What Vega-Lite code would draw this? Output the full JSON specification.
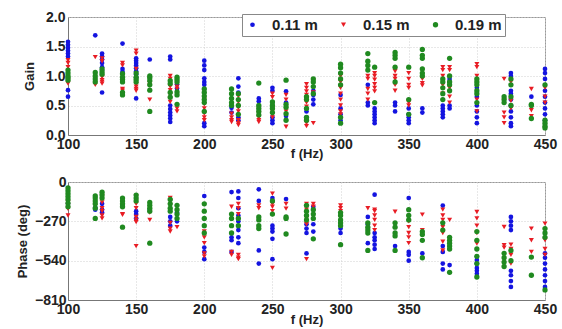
{
"$schema": "https://vega.github.io/schema/vega-lite/v6.json",
"padding": {"left": 15, "top": 9, "right": 3, "bottom": 0},
"background": "white",
"config": {
  "font": "Liberation Sans",
  "view": {"stroke": "#999", "strokeWidth": 1},
  "axis": {"labelFontSize": 14, "labelFontWeight": "bold", "labelColor": "#222", "titleFontSize": 13, "titleFontWeight": "bold", "titleColor": "#222", "grid": true, "gridColor": "#d0d0d0", "gridDash": [1, 2], "ticks": false, "domainColor": "#777"}
},
"spacing": 47,
"bounds": "flush",
"datasets": {
"gain": [
{"f":100,"s":"0.11 m","v":1.58},{"f":100,"s":"0.11 m","v":1.53},{"f":100,"s":"0.11 m","v":1.48},{"f":100,"s":"0.11 m","v":1.43},{"f":100,"s":"0.11 m","v":1.38},{"f":100,"s":"0.11 m","v":1.33},{"f":100,"s":"0.11 m","v":0.76},{"f":100,"s":"0.11 m","v":0.65},
{"f":120,"s":"0.11 m","v":1.69},
{"f":125,"s":"0.11 m","v":1.38},{"f":125,"s":"0.11 m","v":1.33},{"f":125,"s":"0.11 m","v":1.28},{"f":125,"s":"0.11 m","v":1.22},{"f":125,"s":"0.11 m","v":1.15},{"f":125,"s":"0.11 m","v":1.1},{"f":125,"s":"0.11 m","v":0.72},
{"f":140,"s":"0.11 m","v":1.55},{"f":140,"s":"0.11 m","v":1.12},{"f":140,"s":"0.11 m","v":1.07},
{"f":150,"s":"0.11 m","v":1.3},{"f":150,"s":"0.11 m","v":1.26},{"f":150,"s":"0.11 m","v":1.22},{"f":150,"s":"0.11 m","v":1.18},{"f":150,"s":"0.11 m","v":1.13},{"f":150,"s":"0.11 m","v":1.08},{"f":150,"s":"0.11 m","v":1.03},{"f":150,"s":"0.11 m","v":0.98},{"f":150,"s":"0.11 m","v":0.62},
{"f":160,"s":"0.11 m","v":1.28},
{"f":175,"s":"0.11 m","v":1.33},{"f":175,"s":"0.11 m","v":1.28},{"f":175,"s":"0.11 m","v":0.5},{"f":175,"s":"0.11 m","v":0.44},{"f":175,"s":"0.11 m","v":0.38},{"f":175,"s":"0.11 m","v":0.33},{"f":175,"s":"0.11 m","v":0.28},{"f":175,"s":"0.11 m","v":0.22},
{"f":180,"s":"0.11 m","v":0.86},{"f":180,"s":"0.11 m","v":0.79},
{"f":200,"s":"0.11 m","v":1.26},{"f":200,"s":"0.11 m","v":1.18},{"f":200,"s":"0.11 m","v":1.1},{"f":200,"s":"0.11 m","v":0.96},{"f":200,"s":"0.11 m","v":0.9},{"f":200,"s":"0.11 m","v":0.85},{"f":200,"s":"0.11 m","v":0.2},{"f":200,"s":"0.11 m","v":0.15},
{"f":220,"s":"0.11 m","v":0.46},{"f":220,"s":"0.11 m","v":0.38},
{"f":225,"s":"0.11 m","v":0.96},{"f":225,"s":"0.11 m","v":0.82},{"f":225,"s":"0.11 m","v":0.72},{"f":225,"s":"0.11 m","v":0.3},{"f":225,"s":"0.11 m","v":0.25},
{"f":240,"s":"0.11 m","v":0.62},{"f":240,"s":"0.11 m","v":0.57},
{"f":250,"s":"0.11 m","v":0.8},{"f":250,"s":"0.11 m","v":0.75},{"f":250,"s":"0.11 m","v":0.55},{"f":250,"s":"0.11 m","v":0.3},{"f":250,"s":"0.11 m","v":0.25},{"f":250,"s":"0.11 m","v":0.2},
{"f":260,"s":"0.11 m","v":0.74},{"f":260,"s":"0.11 m","v":0.55},{"f":260,"s":"0.11 m","v":0.32},
{"f":275,"s":"0.11 m","v":0.4},{"f":275,"s":"0.11 m","v":0.3},
{"f":280,"s":"0.11 m","v":0.75},{"f":280,"s":"0.11 m","v":0.68},{"f":280,"s":"0.11 m","v":0.6},{"f":280,"s":"0.11 m","v":0.52},
{"f":300,"s":"0.11 m","v":0.68},{"f":300,"s":"0.11 m","v":0.45},{"f":300,"s":"0.11 m","v":0.35},{"f":300,"s":"0.11 m","v":0.25},
{"f":320,"s":"0.11 m","v":0.85},{"f":320,"s":"0.11 m","v":0.55},{"f":320,"s":"0.11 m","v":0.5},
{"f":325,"s":"0.11 m","v":0.45},{"f":325,"s":"0.11 m","v":0.4},{"f":325,"s":"0.11 m","v":0.35},{"f":325,"s":"0.11 m","v":0.3},{"f":325,"s":"0.11 m","v":0.25},{"f":325,"s":"0.11 m","v":0.2},
{"f":340,"s":"0.11 m","v":0.55},{"f":340,"s":"0.11 m","v":0.5},{"f":340,"s":"0.11 m","v":0.4},
{"f":350,"s":"0.11 m","v":0.45},{"f":350,"s":"0.11 m","v":0.35},{"f":350,"s":"0.11 m","v":0.3},{"f":350,"s":"0.11 m","v":0.25},{"f":350,"s":"0.11 m","v":0.2},
{"f":360,"s":"0.11 m","v":0.45},{"f":360,"s":"0.11 m","v":0.38},
{"f":375,"s":"0.11 m","v":0.5},{"f":375,"s":"0.11 m","v":0.45},{"f":375,"s":"0.11 m","v":0.4},{"f":375,"s":"0.11 m","v":0.35},{"f":375,"s":"0.11 m","v":0.3},
{"f":380,"s":"0.11 m","v":0.95},{"f":380,"s":"0.11 m","v":0.9},{"f":380,"s":"0.11 m","v":0.5},{"f":380,"s":"0.11 m","v":0.45},
{"f":400,"s":"0.11 m","v":0.8},{"f":400,"s":"0.11 m","v":0.65},{"f":400,"s":"0.11 m","v":0.5},{"f":400,"s":"0.11 m","v":0.4},{"f":400,"s":"0.11 m","v":0.3},{"f":400,"s":"0.11 m","v":0.2},
{"f":425,"s":"0.11 m","v":1.05},{"f":425,"s":"0.11 m","v":1.0},{"f":425,"s":"0.11 m","v":0.75},{"f":425,"s":"0.11 m","v":0.7},{"f":425,"s":"0.11 m","v":0.6},{"f":425,"s":"0.11 m","v":0.5},{"f":425,"s":"0.11 m","v":0.4},{"f":425,"s":"0.11 m","v":0.3},{"f":425,"s":"0.11 m","v":0.2},{"f":425,"s":"0.11 m","v":0.15},
{"f":440,"s":"0.11 m","v":0.65},
{"f":450,"s":"0.11 m","v":1.12},{"f":450,"s":"0.11 m","v":1.05},{"f":450,"s":"0.11 m","v":0.95},{"f":450,"s":"0.11 m","v":0.75},{"f":450,"s":"0.11 m","v":0.65},{"f":450,"s":"0.11 m","v":0.55},{"f":450,"s":"0.11 m","v":0.45},{"f":450,"s":"0.11 m","v":0.35},{"f":450,"s":"0.11 m","v":0.25},
{"f":100,"s":"0.15 m","v":1.27},{"f":100,"s":"0.15 m","v":1.22},{"f":100,"s":"0.15 m","v":1.15},{"f":100,"s":"0.15 m","v":0.92},{"f":100,"s":"0.15 m","v":0.87},
{"f":120,"s":"0.15 m","v":1.32},{"f":120,"s":"0.15 m","v":0.88},{"f":120,"s":"0.15 m","v":0.85},
{"f":125,"s":"0.15 m","v":1.3},{"f":125,"s":"0.15 m","v":1.25},{"f":125,"s":"0.15 m","v":0.98},{"f":125,"s":"0.15 m","v":0.93},{"f":125,"s":"0.15 m","v":0.9},{"f":125,"s":"0.15 m","v":0.87},
{"f":140,"s":"0.15 m","v":1.22},{"f":140,"s":"0.15 m","v":1.18},{"f":140,"s":"0.15 m","v":0.78},{"f":140,"s":"0.15 m","v":0.75},
{"f":150,"s":"0.15 m","v":1.43},{"f":150,"s":"0.15 m","v":1.38},{"f":150,"s":"0.15 m","v":1.12},{"f":150,"s":"0.15 m","v":0.86},{"f":150,"s":"0.15 m","v":0.82},{"f":150,"s":"0.15 m","v":0.78},{"f":150,"s":"0.15 m","v":0.75},
{"f":160,"s":"0.15 m","v":0.88},{"f":160,"s":"0.15 m","v":0.84},{"f":160,"s":"0.15 m","v":0.6},
{"f":175,"s":"0.15 m","v":1.0},{"f":175,"s":"0.15 m","v":0.95},{"f":175,"s":"0.15 m","v":0.82},{"f":175,"s":"0.15 m","v":0.76},{"f":175,"s":"0.15 m","v":0.68},{"f":175,"s":"0.15 m","v":0.62},{"f":175,"s":"0.15 m","v":0.56},
{"f":180,"s":"0.15 m","v":0.82},{"f":180,"s":"0.15 m","v":0.78},{"f":180,"s":"0.15 m","v":0.45},{"f":180,"s":"0.15 m","v":0.4},
{"f":200,"s":"0.15 m","v":0.6},{"f":200,"s":"0.15 m","v":0.52},{"f":200,"s":"0.15 m","v":0.45},{"f":200,"s":"0.15 m","v":0.36},{"f":200,"s":"0.15 m","v":0.3},{"f":200,"s":"0.15 m","v":0.25},
{"f":220,"s":"0.15 m","v":0.36},{"f":220,"s":"0.15 m","v":0.3},{"f":220,"s":"0.15 m","v":0.25},{"f":220,"s":"0.15 m","v":0.22},
{"f":225,"s":"0.15 m","v":0.66},{"f":225,"s":"0.15 m","v":0.56},{"f":225,"s":"0.15 m","v":0.46},{"f":225,"s":"0.15 m","v":0.4},{"f":225,"s":"0.15 m","v":0.25},{"f":225,"s":"0.15 m","v":0.2},{"f":225,"s":"0.15 m","v":0.17},
{"f":240,"s":"0.15 m","v":0.45},{"f":240,"s":"0.15 m","v":0.36},{"f":240,"s":"0.15 m","v":0.3},{"f":240,"s":"0.15 m","v":0.25},{"f":240,"s":"0.15 m","v":0.22},
{"f":250,"s":"0.15 m","v":0.7},{"f":250,"s":"0.15 m","v":0.64},{"f":250,"s":"0.15 m","v":0.45},{"f":250,"s":"0.15 m","v":0.4},{"f":250,"s":"0.15 m","v":0.35},{"f":250,"s":"0.15 m","v":0.3},
{"f":260,"s":"0.15 m","v":0.68},{"f":260,"s":"0.15 m","v":0.6},{"f":260,"s":"0.15 m","v":0.4},{"f":260,"s":"0.15 m","v":0.14},
{"f":275,"s":"0.15 m","v":0.86},{"f":275,"s":"0.15 m","v":0.8},{"f":275,"s":"0.15 m","v":0.74},{"f":275,"s":"0.15 m","v":0.68},{"f":275,"s":"0.15 m","v":0.55},{"f":275,"s":"0.15 m","v":0.48},{"f":275,"s":"0.15 m","v":0.2},{"f":275,"s":"0.15 m","v":0.15},
{"f":280,"s":"0.15 m","v":0.92},{"f":280,"s":"0.15 m","v":0.72},{"f":280,"s":"0.15 m","v":0.2},
{"f":300,"s":"0.15 m","v":1.0},{"f":300,"s":"0.15 m","v":0.9},{"f":300,"s":"0.15 m","v":0.8},{"f":300,"s":"0.15 m","v":0.7},{"f":300,"s":"0.15 m","v":0.6},{"f":300,"s":"0.15 m","v":0.5},{"f":300,"s":"0.15 m","v":0.4},{"f":300,"s":"0.15 m","v":0.35},
{"f":320,"s":"0.15 m","v":1.0},{"f":320,"s":"0.15 m","v":0.95},{"f":320,"s":"0.15 m","v":0.78},{"f":320,"s":"0.15 m","v":0.7},{"f":320,"s":"0.15 m","v":0.6},
{"f":325,"s":"0.15 m","v":1.05},{"f":325,"s":"0.15 m","v":1.0},{"f":325,"s":"0.15 m","v":0.94},{"f":325,"s":"0.15 m","v":0.86},{"f":325,"s":"0.15 m","v":0.8},{"f":325,"s":"0.15 m","v":0.74},
{"f":340,"s":"0.15 m","v":1.08},{"f":340,"s":"0.15 m","v":1.0},{"f":340,"s":"0.15 m","v":0.95},{"f":340,"s":"0.15 m","v":0.85},{"f":340,"s":"0.15 m","v":0.75},
{"f":350,"s":"0.15 m","v":1.05},{"f":350,"s":"0.15 m","v":0.95},{"f":350,"s":"0.15 m","v":0.85},{"f":350,"s":"0.15 m","v":0.8},{"f":350,"s":"0.15 m","v":0.55},{"f":350,"s":"0.15 m","v":0.5},
{"f":360,"s":"0.15 m","v":0.95},{"f":360,"s":"0.15 m","v":0.88},{"f":360,"s":"0.15 m","v":0.84},
{"f":375,"s":"0.15 m","v":1.15},{"f":375,"s":"0.15 m","v":1.1},{"f":375,"s":"0.15 m","v":1.0},{"f":375,"s":"0.15 m","v":0.85},{"f":375,"s":"0.15 m","v":0.7},
{"f":380,"s":"0.15 m","v":1.15},{"f":380,"s":"0.15 m","v":1.1},{"f":380,"s":"0.15 m","v":0.88},{"f":380,"s":"0.15 m","v":0.8},{"f":380,"s":"0.15 m","v":0.65},{"f":380,"s":"0.15 m","v":0.55},
{"f":400,"s":"0.15 m","v":1.2},{"f":400,"s":"0.15 m","v":1.15},{"f":400,"s":"0.15 m","v":1.0},{"f":400,"s":"0.15 m","v":0.6},{"f":400,"s":"0.15 m","v":0.4},
{"f":420,"s":"0.15 m","v":0.95},{"f":420,"s":"0.15 m","v":0.58},{"f":420,"s":"0.15 m","v":0.38},{"f":420,"s":"0.15 m","v":0.3},{"f":420,"s":"0.15 m","v":0.2},
{"f":425,"s":"0.15 m","v":0.9},{"f":425,"s":"0.15 m","v":0.58},{"f":425,"s":"0.15 m","v":0.45},
{"f":440,"s":"0.15 m","v":0.78},{"f":440,"s":"0.15 m","v":0.42},{"f":440,"s":"0.15 m","v":0.32},
{"f":450,"s":"0.15 m","v":0.8},{"f":450,"s":"0.15 m","v":0.65},{"f":450,"s":"0.15 m","v":0.55},
{"f":100,"s":"0.19 m","v":1.1},{"f":100,"s":"0.19 m","v":1.05},{"f":100,"s":"0.19 m","v":1.0},{"f":100,"s":"0.19 m","v":0.97},{"f":100,"s":"0.19 m","v":0.93},
{"f":120,"s":"0.19 m","v":1.06},{"f":120,"s":"0.19 m","v":1.0},{"f":120,"s":"0.19 m","v":0.95},{"f":120,"s":"0.19 m","v":0.9},
{"f":125,"s":"0.19 m","v":1.12},{"f":125,"s":"0.19 m","v":1.07},{"f":125,"s":"0.19 m","v":1.03},
{"f":140,"s":"0.19 m","v":1.04},{"f":140,"s":"0.19 m","v":0.98},{"f":140,"s":"0.19 m","v":0.94},{"f":140,"s":"0.19 m","v":0.9},{"f":140,"s":"0.19 m","v":0.72},{"f":140,"s":"0.19 m","v":0.68},
{"f":150,"s":"0.19 m","v":1.05},{"f":150,"s":"0.19 m","v":0.98},{"f":150,"s":"0.19 m","v":0.94},{"f":150,"s":"0.19 m","v":0.9},
{"f":160,"s":"0.19 m","v":1.0},{"f":160,"s":"0.19 m","v":0.97},{"f":160,"s":"0.19 m","v":0.92},{"f":160,"s":"0.19 m","v":0.85},{"f":160,"s":"0.19 m","v":0.76},{"f":160,"s":"0.19 m","v":0.4},
{"f":175,"s":"0.19 m","v":0.92},{"f":175,"s":"0.19 m","v":0.87},{"f":175,"s":"0.19 m","v":0.72},{"f":175,"s":"0.19 m","v":0.64},
{"f":180,"s":"0.19 m","v":0.98},{"f":180,"s":"0.19 m","v":0.94},{"f":180,"s":"0.19 m","v":0.9},{"f":180,"s":"0.19 m","v":0.73},{"f":180,"s":"0.19 m","v":0.68},{"f":180,"s":"0.19 m","v":0.52},
{"f":200,"s":"0.19 m","v":0.78},{"f":200,"s":"0.19 m","v":0.72},{"f":200,"s":"0.19 m","v":0.66},{"f":200,"s":"0.19 m","v":0.6},{"f":200,"s":"0.19 m","v":0.55},{"f":200,"s":"0.19 m","v":0.4},
{"f":220,"s":"0.19 m","v":0.78},{"f":220,"s":"0.19 m","v":0.7},{"f":220,"s":"0.19 m","v":0.62},{"f":220,"s":"0.19 m","v":0.55},{"f":220,"s":"0.19 m","v":0.5},
{"f":225,"s":"0.19 m","v":0.7},{"f":225,"s":"0.19 m","v":0.6},{"f":225,"s":"0.19 m","v":0.5},{"f":225,"s":"0.19 m","v":0.35},
{"f":240,"s":"0.19 m","v":0.88},{"f":240,"s":"0.19 m","v":0.5},{"f":240,"s":"0.19 m","v":0.45},{"f":240,"s":"0.19 m","v":0.4},{"f":240,"s":"0.19 m","v":0.34},
{"f":250,"s":"0.19 m","v":0.56},{"f":250,"s":"0.19 m","v":0.5},{"f":250,"s":"0.19 m","v":0.45},{"f":250,"s":"0.19 m","v":0.38},
{"f":260,"s":"0.19 m","v":0.93},{"f":260,"s":"0.19 m","v":0.52},{"f":260,"s":"0.19 m","v":0.47},{"f":260,"s":"0.19 m","v":0.36},{"f":260,"s":"0.19 m","v":0.25},
{"f":275,"s":"0.19 m","v":0.65},{"f":275,"s":"0.19 m","v":0.6},{"f":275,"s":"0.19 m","v":0.45},{"f":275,"s":"0.19 m","v":0.3},{"f":275,"s":"0.19 m","v":0.25},
{"f":280,"s":"0.19 m","v":0.95},{"f":280,"s":"0.19 m","v":0.9},{"f":280,"s":"0.19 m","v":0.82},{"f":280,"s":"0.19 m","v":0.7},
{"f":300,"s":"0.19 m","v":1.2},{"f":300,"s":"0.19 m","v":1.14},{"f":300,"s":"0.19 m","v":1.05},{"f":300,"s":"0.19 m","v":0.95},{"f":300,"s":"0.19 m","v":0.85},{"f":300,"s":"0.19 m","v":0.3},{"f":300,"s":"0.19 m","v":0.2},
{"f":320,"s":"0.19 m","v":1.38},{"f":320,"s":"0.19 m","v":1.25},{"f":320,"s":"0.19 m","v":1.18},{"f":320,"s":"0.19 m","v":1.1},
{"f":325,"s":"0.19 m","v":1.15},{"f":325,"s":"0.19 m","v":0.55},
{"f":340,"s":"0.19 m","v":1.4},{"f":340,"s":"0.19 m","v":1.35},{"f":340,"s":"0.19 m","v":1.3},{"f":340,"s":"0.19 m","v":1.15},{"f":340,"s":"0.19 m","v":0.9},
{"f":350,"s":"0.19 m","v":1.15},{"f":350,"s":"0.19 m","v":0.6},{"f":350,"s":"0.19 m","v":0.35},
{"f":360,"s":"0.19 m","v":1.45},{"f":360,"s":"0.19 m","v":1.35},{"f":360,"s":"0.19 m","v":1.3},{"f":360,"s":"0.19 m","v":1.12},{"f":360,"s":"0.19 m","v":1.05},{"f":360,"s":"0.19 m","v":1.0},
{"f":375,"s":"0.19 m","v":0.95},{"f":375,"s":"0.19 m","v":0.9},{"f":375,"s":"0.19 m","v":0.8},{"f":375,"s":"0.19 m","v":0.7},{"f":375,"s":"0.19 m","v":0.6},
{"f":380,"s":"0.19 m","v":1.3},{"f":380,"s":"0.19 m","v":1.0},{"f":380,"s":"0.19 m","v":0.9},{"f":380,"s":"0.19 m","v":0.85},{"f":380,"s":"0.19 m","v":0.75},
{"f":400,"s":"0.19 m","v":0.95},{"f":400,"s":"0.19 m","v":0.9},{"f":400,"s":"0.19 m","v":0.85},{"f":400,"s":"0.19 m","v":0.75},{"f":400,"s":"0.19 m","v":0.7},{"f":400,"s":"0.19 m","v":0.55},
{"f":420,"s":"0.19 m","v":0.65},{"f":420,"s":"0.19 m","v":0.6},{"f":420,"s":"0.19 m","v":0.55},
{"f":425,"s":"0.19 m","v":0.95},{"f":425,"s":"0.19 m","v":0.85},{"f":425,"s":"0.19 m","v":0.65},{"f":425,"s":"0.19 m","v":0.5},
{"f":440,"s":"0.19 m","v":0.52},{"f":440,"s":"0.19 m","v":0.5},{"f":440,"s":"0.19 m","v":0.28},
{"f":450,"s":"0.19 m","v":0.85},{"f":450,"s":"0.19 m","v":0.25},{"f":450,"s":"0.19 m","v":0.2},{"f":450,"s":"0.19 m","v":0.15},{"f":450,"s":"0.19 m","v":0.12}
],
"phase": [
{"f":100,"s":"0.11 m","v":-150},
{"f":120,"s":"0.11 m","v":-175},{"f":120,"s":"0.11 m","v":-190},
{"f":125,"s":"0.11 m","v":-150},{"f":125,"s":"0.11 m","v":-190},{"f":125,"s":"0.11 m","v":-210},
{"f":140,"s":"0.11 m","v":-160},
{"f":150,"s":"0.11 m","v":-200},{"f":150,"s":"0.11 m","v":-220},{"f":150,"s":"0.11 m","v":-250},
{"f":160,"s":"0.11 m","v":-190},
{"f":175,"s":"0.11 m","v":-240},{"f":175,"s":"0.11 m","v":-270},{"f":175,"s":"0.11 m","v":-300},
{"f":180,"s":"0.11 m","v":-210},{"f":180,"s":"0.11 m","v":-270},
{"f":200,"s":"0.11 m","v":-96},{"f":200,"s":"0.11 m","v":-450},{"f":200,"s":"0.11 m","v":-480},{"f":200,"s":"0.11 m","v":-530},
{"f":220,"s":"0.11 m","v":-69},{"f":220,"s":"0.11 m","v":-380},{"f":220,"s":"0.11 m","v":-400},{"f":220,"s":"0.11 m","v":-480},
{"f":225,"s":"0.11 m","v":-65},{"f":225,"s":"0.11 m","v":-110},{"f":225,"s":"0.11 m","v":-180},{"f":225,"s":"0.11 m","v":-230},{"f":225,"s":"0.11 m","v":-270},{"f":225,"s":"0.11 m","v":-330},{"f":225,"s":"0.11 m","v":-380},{"f":225,"s":"0.11 m","v":-420},
{"f":240,"s":"0.11 m","v":-50},{"f":240,"s":"0.11 m","v":-130},{"f":240,"s":"0.11 m","v":-470},{"f":240,"s":"0.11 m","v":-560},
{"f":250,"s":"0.11 m","v":-110},{"f":250,"s":"0.11 m","v":-300},{"f":250,"s":"0.11 m","v":-320},{"f":250,"s":"0.11 m","v":-340},{"f":250,"s":"0.11 m","v":-390},{"f":250,"s":"0.11 m","v":-530},
{"f":260,"s":"0.11 m","v":-117},
{"f":275,"s":"0.11 m","v":-290},{"f":275,"s":"0.11 m","v":-320},{"f":275,"s":"0.11 m","v":-350},{"f":275,"s":"0.11 m","v":-490},
{"f":280,"s":"0.11 m","v":-170},{"f":280,"s":"0.11 m","v":-290},{"f":280,"s":"0.11 m","v":-340},
{"f":300,"s":"0.11 m","v":-320},{"f":300,"s":"0.11 m","v":-350},
{"f":320,"s":"0.11 m","v":-240},{"f":320,"s":"0.11 m","v":-290},{"f":320,"s":"0.11 m","v":-420},
{"f":325,"s":"0.11 m","v":-87},{"f":325,"s":"0.11 m","v":-350},{"f":325,"s":"0.11 m","v":-380},{"f":325,"s":"0.11 m","v":-400},{"f":325,"s":"0.11 m","v":-430},{"f":325,"s":"0.11 m","v":-460},
{"f":340,"s":"0.11 m","v":-440},
{"f":350,"s":"0.11 m","v":-110},{"f":350,"s":"0.11 m","v":-480},{"f":350,"s":"0.11 m","v":-500},{"f":350,"s":"0.11 m","v":-540},
{"f":360,"s":"0.11 m","v":-490},
{"f":375,"s":"0.11 m","v":-162},{"f":375,"s":"0.11 m","v":-440},{"f":375,"s":"0.11 m","v":-480},{"f":375,"s":"0.11 m","v":-560},{"f":375,"s":"0.11 m","v":-600},
{"f":380,"s":"0.11 m","v":-570},
{"f":400,"s":"0.11 m","v":-535},{"f":400,"s":"0.11 m","v":-560},{"f":400,"s":"0.11 m","v":-590},{"f":400,"s":"0.11 m","v":-610},{"f":400,"s":"0.11 m","v":-630},
{"f":425,"s":"0.11 m","v":-240},{"f":425,"s":"0.11 m","v":-270},{"f":425,"s":"0.11 m","v":-300},{"f":425,"s":"0.11 m","v":-330},{"f":425,"s":"0.11 m","v":-610},{"f":425,"s":"0.11 m","v":-640},{"f":425,"s":"0.11 m","v":-680},{"f":425,"s":"0.11 m","v":-720},
{"f":450,"s":"0.11 m","v":-490},{"f":450,"s":"0.11 m","v":-520},{"f":450,"s":"0.11 m","v":-560},{"f":450,"s":"0.11 m","v":-600},{"f":450,"s":"0.11 m","v":-640},{"f":450,"s":"0.11 m","v":-680},{"f":450,"s":"0.11 m","v":-720},
{"f":100,"s":"0.15 m","v":-140},{"f":100,"s":"0.15 m","v":-160},{"f":100,"s":"0.15 m","v":-185},{"f":100,"s":"0.15 m","v":-230},
{"f":120,"s":"0.15 m","v":-165},
{"f":125,"s":"0.15 m","v":-100},{"f":125,"s":"0.15 m","v":-140},{"f":125,"s":"0.15 m","v":-180},{"f":125,"s":"0.15 m","v":-200},{"f":125,"s":"0.15 m","v":-230},{"f":125,"s":"0.15 m","v":-250},
{"f":140,"s":"0.15 m","v":-220},{"f":140,"s":"0.15 m","v":-225},
{"f":150,"s":"0.15 m","v":-100},{"f":150,"s":"0.15 m","v":-150},{"f":150,"s":"0.15 m","v":-180},{"f":150,"s":"0.15 m","v":-240},{"f":150,"s":"0.15 m","v":-260},{"f":150,"s":"0.15 m","v":-275},{"f":150,"s":"0.15 m","v":-440},
{"f":160,"s":"0.15 m","v":-210},{"f":160,"s":"0.15 m","v":-260},
{"f":175,"s":"0.15 m","v":-110},{"f":175,"s":"0.15 m","v":-130},{"f":175,"s":"0.15 m","v":-160},{"f":175,"s":"0.15 m","v":-280},{"f":175,"s":"0.15 m","v":-320},{"f":175,"s":"0.15 m","v":-340},
{"f":180,"s":"0.15 m","v":-310},
{"f":200,"s":"0.15 m","v":-340},{"f":200,"s":"0.15 m","v":-380},{"f":200,"s":"0.15 m","v":-420},{"f":200,"s":"0.15 m","v":-490},{"f":200,"s":"0.15 m","v":-510},
{"f":220,"s":"0.15 m","v":-170},{"f":220,"s":"0.15 m","v":-480},{"f":220,"s":"0.15 m","v":-500},
{"f":225,"s":"0.15 m","v":-150},{"f":225,"s":"0.15 m","v":-180},{"f":225,"s":"0.15 m","v":-220},{"f":225,"s":"0.15 m","v":-500},{"f":225,"s":"0.15 m","v":-520},{"f":225,"s":"0.15 m","v":-530},
{"f":240,"s":"0.15 m","v":-160},{"f":240,"s":"0.15 m","v":-180},
{"f":250,"s":"0.15 m","v":-80},{"f":250,"s":"0.15 m","v":-150},{"f":250,"s":"0.15 m","v":-170},{"f":250,"s":"0.15 m","v":-200},{"f":250,"s":"0.15 m","v":-590},
{"f":260,"s":"0.15 m","v":-150},{"f":260,"s":"0.15 m","v":-183},
{"f":275,"s":"0.15 m","v":-150},{"f":275,"s":"0.15 m","v":-170},{"f":275,"s":"0.15 m","v":-190},{"f":275,"s":"0.15 m","v":-210},{"f":275,"s":"0.15 m","v":-250},{"f":275,"s":"0.15 m","v":-290},{"f":275,"s":"0.15 m","v":-530},
{"f":280,"s":"0.15 m","v":-150},{"f":280,"s":"0.15 m","v":-170},
{"f":300,"s":"0.15 m","v":-160},{"f":300,"s":"0.15 m","v":-180},{"f":300,"s":"0.15 m","v":-200},
{"f":320,"s":"0.15 m","v":-180},
{"f":325,"s":"0.15 m","v":-190},{"f":325,"s":"0.15 m","v":-200},{"f":325,"s":"0.15 m","v":-230},{"f":325,"s":"0.15 m","v":-260},{"f":325,"s":"0.15 m","v":-300},{"f":325,"s":"0.15 m","v":-330},
{"f":340,"s":"0.15 m","v":-204},
{"f":350,"s":"0.15 m","v":-270},{"f":350,"s":"0.15 m","v":-310},{"f":350,"s":"0.15 m","v":-350},{"f":350,"s":"0.15 m","v":-380},{"f":350,"s":"0.15 m","v":-420},
{"f":360,"s":"0.15 m","v":-224},{"f":360,"s":"0.15 m","v":-330},
{"f":375,"s":"0.15 m","v":-190},{"f":375,"s":"0.15 m","v":-230},{"f":375,"s":"0.15 m","v":-260},{"f":375,"s":"0.15 m","v":-310},{"f":375,"s":"0.15 m","v":-350},{"f":375,"s":"0.15 m","v":-410},{"f":375,"s":"0.15 m","v":-470},
{"f":380,"s":"0.15 m","v":-260},
{"f":400,"s":"0.15 m","v":-206},{"f":400,"s":"0.15 m","v":-250},{"f":400,"s":"0.15 m","v":-300},{"f":400,"s":"0.15 m","v":-350},{"f":400,"s":"0.15 m","v":-423},
{"f":420,"s":"0.15 m","v":-309},{"f":420,"s":"0.15 m","v":-434},{"f":420,"s":"0.15 m","v":-450},
{"f":425,"s":"0.15 m","v":-430},{"f":425,"s":"0.15 m","v":-460},{"f":425,"s":"0.15 m","v":-500},{"f":425,"s":"0.15 m","v":-560},
{"f":440,"s":"0.15 m","v":-320},{"f":440,"s":"0.15 m","v":-400},{"f":440,"s":"0.15 m","v":-480},
{"f":450,"s":"0.15 m","v":-286},{"f":450,"s":"0.15 m","v":-400},{"f":450,"s":"0.15 m","v":-460},{"f":450,"s":"0.15 m","v":-500},
{"f":100,"s":"0.19 m","v":-40},{"f":100,"s":"0.19 m","v":-60},{"f":100,"s":"0.19 m","v":-80},{"f":100,"s":"0.19 m","v":-100},{"f":100,"s":"0.19 m","v":-120},{"f":100,"s":"0.19 m","v":-145},{"f":100,"s":"0.19 m","v":-170},
{"f":120,"s":"0.19 m","v":-95},{"f":120,"s":"0.19 m","v":-110},{"f":120,"s":"0.19 m","v":-130},{"f":120,"s":"0.19 m","v":-150},{"f":120,"s":"0.19 m","v":-180},{"f":120,"s":"0.19 m","v":-250},
{"f":125,"s":"0.19 m","v":-70},{"f":125,"s":"0.19 m","v":-90},{"f":125,"s":"0.19 m","v":-110},
{"f":140,"s":"0.19 m","v":-110},{"f":140,"s":"0.19 m","v":-130},{"f":140,"s":"0.19 m","v":-150},{"f":140,"s":"0.19 m","v":-170},{"f":140,"s":"0.19 m","v":-310},
{"f":150,"s":"0.19 m","v":-90},{"f":150,"s":"0.19 m","v":-110},{"f":150,"s":"0.19 m","v":-130},
{"f":160,"s":"0.19 m","v":-140},{"f":160,"s":"0.19 m","v":-160},{"f":160,"s":"0.19 m","v":-180},{"f":160,"s":"0.19 m","v":-200},{"f":160,"s":"0.19 m","v":-420},
{"f":175,"s":"0.19 m","v":-120},{"f":175,"s":"0.19 m","v":-150},{"f":175,"s":"0.19 m","v":-180},{"f":175,"s":"0.19 m","v":-200},
{"f":180,"s":"0.19 m","v":-160},{"f":180,"s":"0.19 m","v":-190},{"f":180,"s":"0.19 m","v":-220},{"f":180,"s":"0.19 m","v":-250},
{"f":200,"s":"0.19 m","v":-150},{"f":200,"s":"0.19 m","v":-200},{"f":200,"s":"0.19 m","v":-250},{"f":200,"s":"0.19 m","v":-300},{"f":200,"s":"0.19 m","v":-350},
{"f":220,"s":"0.19 m","v":-220},{"f":220,"s":"0.19 m","v":-250},{"f":220,"s":"0.19 m","v":-300},{"f":220,"s":"0.19 m","v":-350},
{"f":225,"s":"0.19 m","v":-250},{"f":225,"s":"0.19 m","v":-300},
{"f":240,"s":"0.19 m","v":-240},{"f":240,"s":"0.19 m","v":-260},{"f":240,"s":"0.19 m","v":-300},{"f":240,"s":"0.19 m","v":-320},
{"f":250,"s":"0.19 m","v":-130},{"f":250,"s":"0.19 m","v":-220},
{"f":260,"s":"0.19 m","v":-240},{"f":260,"s":"0.19 m","v":-250},{"f":260,"s":"0.19 m","v":-357},
{"f":275,"s":"0.19 m","v":-160},{"f":275,"s":"0.19 m","v":-200},{"f":275,"s":"0.19 m","v":-230},{"f":275,"s":"0.19 m","v":-260},
{"f":280,"s":"0.19 m","v":-190},{"f":280,"s":"0.19 m","v":-220},{"f":280,"s":"0.19 m","v":-250},{"f":280,"s":"0.19 m","v":-390},
{"f":300,"s":"0.19 m","v":-210},{"f":300,"s":"0.19 m","v":-230},{"f":300,"s":"0.19 m","v":-260},{"f":300,"s":"0.19 m","v":-280},{"f":300,"s":"0.19 m","v":-300},{"f":300,"s":"0.19 m","v":-430},
{"f":320,"s":"0.19 m","v":-280},{"f":320,"s":"0.19 m","v":-310},{"f":320,"s":"0.19 m","v":-330},{"f":320,"s":"0.19 m","v":-350},{"f":320,"s":"0.19 m","v":-470},
{"f":340,"s":"0.19 m","v":-280},{"f":340,"s":"0.19 m","v":-310},{"f":340,"s":"0.19 m","v":-350},{"f":340,"s":"0.19 m","v":-370},{"f":340,"s":"0.19 m","v":-470},
{"f":350,"s":"0.19 m","v":-190},{"f":350,"s":"0.19 m","v":-230},{"f":350,"s":"0.19 m","v":-260},
{"f":360,"s":"0.19 m","v":-340},{"f":360,"s":"0.19 m","v":-360},{"f":360,"s":"0.19 m","v":-400},{"f":360,"s":"0.19 m","v":-520},
{"f":375,"s":"0.19 m","v":-280},{"f":375,"s":"0.19 m","v":-330},
{"f":380,"s":"0.19 m","v":-380},{"f":380,"s":"0.19 m","v":-400},{"f":380,"s":"0.19 m","v":-420},{"f":380,"s":"0.19 m","v":-440},{"f":380,"s":"0.19 m","v":-460},{"f":380,"s":"0.19 m","v":-620},
{"f":400,"s":"0.19 m","v":-340},{"f":400,"s":"0.19 m","v":-400},{"f":400,"s":"0.19 m","v":-460},{"f":400,"s":"0.19 m","v":-510},{"f":400,"s":"0.19 m","v":-560},{"f":400,"s":"0.19 m","v":-652},
{"f":420,"s":"0.19 m","v":-490},{"f":420,"s":"0.19 m","v":-520},{"f":420,"s":"0.19 m","v":-550},{"f":420,"s":"0.19 m","v":-580},
{"f":425,"s":"0.19 m","v":-470},{"f":425,"s":"0.19 m","v":-540},
{"f":440,"s":"0.19 m","v":-515},{"f":440,"s":"0.19 m","v":-640},
{"f":450,"s":"0.19 m","v":-320},{"f":450,"s":"0.19 m","v":-350},{"f":450,"s":"0.19 m","v":-380},{"f":450,"s":"0.19 m","v":-741}
]
},
"vconcat": [
{
 "width": 477, "height": 118,
 "data": {"name": "gain"},
 "mark": {"type": "point", "filled": true, "opacity": 1, "strokeWidth": 0},
 "encoding": {
  "x": {"field": "f", "type": "quantitative", "scale": {"domain": [100, 450], "nice": false}, "axis": {"values": [100,150,200,250,300,350,400,450], "title": "f (Hz)", "labelPadding": 2, "titlePadding": -4, "labelFlush": false}},
  "y": {"field": "v", "type": "quantitative", "scale": {"domain": [0, 2], "nice": false}, "axis": {"values": [0,0.5,1,1.5,2], "format": ".1f", "title": "Gain", "labelPadding": 3, "titlePadding": 2, "minExtent": 30, "maxExtent": 30}},
  "color": {"field": "s", "type": "nominal", "scale": {"domain": ["0.11 m","0.15 m","0.19 m"], "range": ["#1414e0","#e81c24","#208a20"]},
   "legend": {"orient": "none", "legendX": 174, "legendY": -3, "direction": "horizontal", "columns": 3, "title": null, "labelFontSize": 15, "labelFontWeight": "bold", "labelColor": "#222", "strokeColor": "#888", "fillColor": "white", "padding": 3, "columnPadding": 18, "labelOffset": 12, "symbolStrokeWidth": 0}},
  "shape": {"field": "s", "type": "nominal", "scale": {"domain": ["0.11 m","0.15 m","0.19 m"], "range": ["circle","triangle-down","circle"]}},
  "size": {"field": "s", "type": "nominal", "scale": {"domain": ["0.11 m","0.15 m","0.19 m"], "range": [22, 28, 18]}}
 }
},
{
 "width": 477, "height": 118,
 "data": {"name": "phase"},
 "mark": {"type": "point", "filled": true, "opacity": 1, "strokeWidth": 0},
 "encoding": {
  "x": {"field": "f", "type": "quantitative", "scale": {"domain": [100, 450], "nice": false}, "axis": {"values": [100,150,200,250,300,350,400,450], "title": "f (Hz)", "labelPadding": 2, "titlePadding": -3, "labelFlush": false}},
  "y": {"field": "v", "type": "quantitative", "scale": {"domain": [-810, 0], "nice": false}, "axis": {"values": [-810,-540,-270,0], "title": "Phase (deg)", "labelPadding": 2, "titlePadding": 9, "minExtent": 30, "maxExtent": 30}},
  "color": {"field": "s", "type": "nominal", "scale": {"domain": ["0.11 m","0.15 m","0.19 m"], "range": ["#1414e0","#e81c24","#208a20"]}, "legend": null},
  "shape": {"field": "s", "type": "nominal", "scale": {"domain": ["0.11 m","0.15 m","0.19 m"], "range": ["circle","triangle-down","circle"]}, "legend": null},
  "size": {"field": "s", "type": "nominal", "scale": {"domain": ["0.11 m","0.15 m","0.19 m"], "range": [22, 28, 18]}, "legend": null}
 }
}
],
"resolve": {"legend": {"color": "independent", "shape": "independent", "size": "independent"}, "scale": {"color": "independent", "shape": "independent", "size": "independent"}}
}
